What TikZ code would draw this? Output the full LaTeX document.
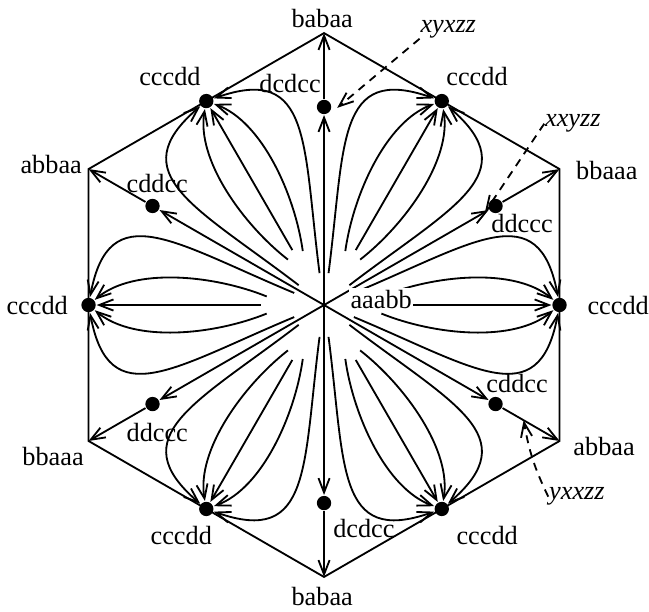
\documentclass[tikz,border=0pt]{standalone}
\usepackage{fontspec}
\setmainfont{Liberation Serif}
\usetikzlibrary{arrows.meta}

\begin{document}
\begin{tikzpicture}[line width=1.15pt, >={Straight Barb[length=9pt,width=7pt]}]
\useasboundingbox (-7.15,-6.77) rectangle (7.17,6.73);
\coordinate (c) at (0,0);
\coordinate (n) at (90:6);
\coordinate (ne) at (30:6);
\coordinate (se) at (-30:6);
\coordinate (s) at (-90:6);
\coordinate (sw) at (210:6);
\coordinate (nw) at (150:6);
\tikzstyle{every node} = [circle, fill=black, minimum size=9pt, inner sep=0pt]
% dots on the spokes
\node (in) at (90:4.37) {};
\node (ine) at (30:4.37) {};
\node (ise) at (-30:4.37) {};
\node (is) at (-90:4.37) {};
\node (isw) at (210:4.37) {};
\node (inw) at (150:4.37) {};
% dots on the sides
\node (oe) at (0:5.196) {};
\node (one) at (60:5.196) {};
\node (onw) at (120:5.196) {};
\node (ow) at (180:5.196) {};
\node (osw) at (240:5.196) {};
\node (ose) at (300:5.196) {};
\draw (n) -- (ne) -- (se) -- (s) -- (sw) -- (nw) -- cycle;
\draw[->] (c) -- (in);
\draw[->] (in) -- (n);
\draw[->] (c) -- (ine);
\draw[->] (ine) -- (ne);
\draw[->] (c) -- (ise);
\draw[->] (ise) -- (se);
\draw[->] (c) -- (is);
\draw[->] (is) -- (s);
\draw[->] (c) -- (isw);
\draw[->] (isw) -- (sw);
\draw[->] (c) -- (inw);
\draw[->] (inw) -- (nw);
% petals
\begin{scope}[rotate=0]
\coordinate (oe1) at (22:0.71); \coordinate (oe2) at (8.5:1.28); \coordinate (oe3) at (1.4,0);
\coordinate (oe4) at (-8.5:1.28); \coordinate (oe5) at (-22:0.71);
\draw[->] (oe1) .. controls (3.31,1.37) and (4.74,2.43) .. (oe);
\draw[->] (oe2) .. controls (2.43,0.66) and (4.19,0.84) .. (oe);
\draw[->] (oe3) -- (oe);
\draw[->] (oe4) .. controls (2.43,-0.66) and (4.19,-0.84) .. (oe);
\draw[->] (oe5) .. controls (3.31,-1.37) and (4.74,-2.43) .. (oe);
\end{scope}
\begin{scope}[rotate=60]
\coordinate (one1) at (22:0.71); \coordinate (one2) at (8.5:1.28); \coordinate (one3) at (1.4,0);
\coordinate (one4) at (-8.5:1.28); \coordinate (one5) at (-22:0.71);
\draw[->] (one1) .. controls (3.31,1.37) and (4.74,2.43) .. (one);
\draw[->] (one2) .. controls (2.43,0.66) and (4.19,0.84) .. (one);
\draw[->] (one3) -- (one);
\draw[->] (one4) .. controls (2.43,-0.66) and (4.19,-0.84) .. (one);
\draw[->] (one5) .. controls (3.31,-1.37) and (4.74,-2.43) .. (one);
\end{scope}
\begin{scope}[rotate=120]
\coordinate (onw1) at (22:0.71); \coordinate (onw2) at (8.5:1.28); \coordinate (onw3) at (1.4,0);
\coordinate (onw4) at (-8.5:1.28); \coordinate (onw5) at (-22:0.71);
\draw[->] (onw1) .. controls (3.31,1.37) and (4.74,2.43) .. (onw);
\draw[->] (onw2) .. controls (2.43,0.66) and (4.19,0.84) .. (onw);
\draw[->] (onw3) -- (onw);
\draw[->] (onw4) .. controls (2.43,-0.66) and (4.19,-0.84) .. (onw);
\draw[->] (onw5) .. controls (3.31,-1.37) and (4.74,-2.43) .. (onw);
\end{scope}
\begin{scope}[rotate=180]
\coordinate (ow1) at (22:0.71); \coordinate (ow2) at (8.5:1.28); \coordinate (ow3) at (1.4,0);
\coordinate (ow4) at (-8.5:1.28); \coordinate (ow5) at (-22:0.71);
\draw[->] (ow1) .. controls (3.31,1.37) and (4.74,2.43) .. (ow);
\draw[->] (ow2) .. controls (2.43,0.66) and (4.19,0.84) .. (ow);
\draw[->] (ow3) -- (ow);
\draw[->] (ow4) .. controls (2.43,-0.66) and (4.19,-0.84) .. (ow);
\draw[->] (ow5) .. controls (3.31,-1.37) and (4.74,-2.43) .. (ow);
\end{scope}
\begin{scope}[rotate=240]
\coordinate (osw1) at (22:0.71); \coordinate (osw2) at (8.5:1.28); \coordinate (osw3) at (1.4,0);
\coordinate (osw4) at (-8.5:1.28); \coordinate (osw5) at (-22:0.71);
\draw[->] (osw1) .. controls (3.31,1.37) and (4.74,2.43) .. (osw);
\draw[->] (osw2) .. controls (2.43,0.66) and (4.19,0.84) .. (osw);
\draw[->] (osw3) -- (osw);
\draw[->] (osw4) .. controls (2.43,-0.66) and (4.19,-0.84) .. (osw);
\draw[->] (osw5) .. controls (3.31,-1.37) and (4.74,-2.43) .. (osw);
\end{scope}
\begin{scope}[rotate=300]
\coordinate (ose1) at (22:0.71); \coordinate (ose2) at (8.5:1.28); \coordinate (ose3) at (1.4,0);
\coordinate (ose4) at (-8.5:1.28); \coordinate (ose5) at (-22:0.71);
\draw[->] (ose1) .. controls (3.31,1.37) and (4.74,2.43) .. (ose);
\draw[->] (ose2) .. controls (2.43,0.66) and (4.19,0.84) .. (ose);
\draw[->] (ose3) -- (ose);
\draw[->] (ose4) .. controls (2.43,-0.66) and (4.19,-0.84) .. (ose);
\draw[->] (ose5) .. controls (3.31,-1.37) and (4.74,-2.43) .. (ose);
\end{scope}
% labels
\tikzstyle{every node} = [font=\fontsize{16.5}{19}\selectfont, anchor=base, inner sep=0pt]
\node (ln) at (-0.04,6.13) {babaa};
\node (ls) at (-0.04,-6.62) {babaa};
\node (lne) at (6.24,2.76) {bbaaa};
\node (lsw) at (-5.98,-3.53) {bbaaa};
\node (lnw) at (-6.02,2.91) {abbaa};
\node (lse) at (6.18,-3.31) {abbaa};
\node (lin) at (-0.75,4.70) {dcdcc};
\node (lis) at (0.88,-5.14) {dcdcc};
\node (line) at (4.37,1.59) {ddccc};
\node (lisw) at (-3.68,-3.02) {ddccc};
\node (linw) at (-3.68,2.49) {cddcc};
\node (lise) at (4.26,-1.94) {cddcc};
\node (loe) at (6.49,-0.2) {cccdd};
\node (low) at (-6.33,-0.2) {cccdd};
\node (lone) at (3.375,4.85) {cccdd};
\node (lonw) at (-3.40,4.85) {cccdd};
\node (lose) at (3.60,-5.29) {cccdd};
\node (losw) at (-3.15,-5.29) {cccdd};
\node[fill=white, inner sep=1pt] (lc) at (1.26,-0.07) {aaabb};
\node (lxyxzz) at (2.74,6.02) {\textit{xyxzz}};
\node (lxxyzz) at (5.49,3.93) {\textit{xxyzz}};
\node (lyxxzz) at (5.58,-4.30) {\textit{yxxzz}};
% dashed pointers
\coordinate (txy) at (0.29,4.35);
\coordinate (txx) at (30:4.1);
\path (ise) -- coordinate[pos=0.37] (tyx) (se);
\draw[->, dash pattern=on 5pt off 4pt] (lxyxzz.south west) -- (txy);
\draw[->, dash pattern=on 5pt off 4pt] (lxxyzz.west) -- (txx);
\draw[->, dash pattern=on 5pt off 4pt] (lyxxzz.west) to[bend left=8] (tyx);
\end{tikzpicture}
\end{document}
